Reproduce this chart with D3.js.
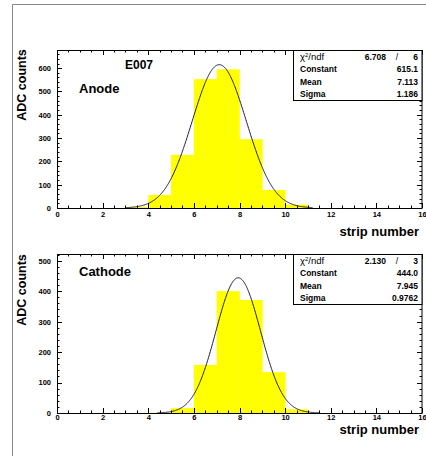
<!DOCTYPE html>
<html>
<head>
<meta charset="utf-8">
<script src="https://cdn.jsdelivr.net/npm/d3@7"></script>
<style>
  html, body { margin: 0; padding: 0; background: #fff; }
  svg { display: block; }
  text { font-family: "Liberation Sans", Arial, Helvetica, sans-serif; font-weight: bold; fill: #000; }
</style>
</head>
<body>
<svg id="chart" width="426" height="456"></svg>
<script>
// ---------------- data ----------------
const binStarts = [0, 1, 2, 3, 4, 5, 6, 7, 8, 9, 10, 11, 12, 13, 14, 15];
const binWidth = 1;
const anodeCounts   = [0, 0, 0, 4, 56, 228, 553, 595, 295, 77, 14, 0, 0, 0, 0, 0];
const cathodeCounts = [0, 0, 0, 0, 1, 16, 158, 400, 371, 134, 12, 0, 0, 0, 0, 0];
const xTickValues = [0, 2, 4, 6, 8, 10, 12, 14, 16];
const anodeYTicks   = [0, 100, 200, 300, 400, 500, 600];
const cathodeYTicks = [0, 100, 200, 300, 400, 500];
const anodeFit   = [615.1, 7.113, 1.186];   // constant, mean, sigma
const cathodeFit = [444.0, 7.945, 0.9762];
const anodeFitRange   = [3.0, 11.2];
const cathodeFitRange = [4.4, 11.5];
const anodeChi2   = ["6.708", "6"];
const cathodeChi2 = ["2.130", "3"];
const anodeStatValues   = ["615.1", "7.113", "1.186"];
const cathodeStatValues = ["444.0", "7.945", "0.9762"];
const statLabels = ["Constant", "Mean", "Sigma"];
const anodeYMax = 678;
const cathodeYMax = 522;

// ---------------- drawing ----------------
const svg = d3.select("#chart");
svg.append("rect").attr("x", 0).attr("y", 0).attr("width", 426).attr("height", 456).attr("fill", "#fff");
// outer pad border
svg.append("path").attr("d", "M12.5,460 L12.5,4.5 L430,4.5")
  .attr("fill", "none").attr("stroke", "#888").attr("stroke-width", 1);

function panel(cfg) {
  const g = svg.append("g");
  const x = d3.scaleLinear().domain([0, 16]).range([cfg.left, cfg.right]);
  const y = d3.scaleLinear().domain([0, cfg.ymax]).range([cfg.bottom, cfg.top]);

  // bars
  g.selectAll("rect.bar").data(binStarts.map((s, i) => ({ s, v: cfg.counts[i] })).filter(d => d.v > 0))
    .enter().append("rect").attr("class", "bar")
    .attr("x", d => x(d.s)).attr("width", d => x(d.s + binWidth) - x(d.s) + 0.3)
    .attr("y", d => y(d.v)).attr("height", d => y(0) - y(d.v))
    .attr("fill", "#ffff00").attr("stroke", "none");

  // fit curve
  const [c, m, s] = cfg.fit;
  const xs = d3.range(cfg.fitRange[0], cfg.fitRange[1] + 1e-9, 0.02);
  const line = d3.line().x(d => x(d)).y(d => y(c * Math.exp(-0.5 * ((d - m) / s) ** 2))).curve(d3.curveLinear);
  g.append("path").datum(xs).attr("d", line).attr("fill", "none").attr("stroke", "#1a1a40").attr("stroke-width", 1);

  // frame
  g.append("rect").attr("x", cfg.left + 0.5).attr("y", cfg.top + 0.5)
    .attr("width", cfg.right - cfg.left - 0.5).attr("height", cfg.bottom - cfg.top)
    .attr("fill", "none").attr("stroke", "#000").attr("stroke-width", 1);

  // x axis ticks (bottom & top, inward)
  const xMinor = d3.range(0, 16.001, 0.5);
  xMinor.forEach(v => {
    const major = Math.abs(v / 2 - Math.round(v / 2)) < 1e-6;
    const len = major ? 5 : 2.5;
    const px = Math.round(x(v)) + 0.5;
    g.append("line").attr("x1", px).attr("x2", px).attr("y1", cfg.bottom).attr("y2", cfg.bottom - len).attr("stroke", "#000");
    g.append("line").attr("x1", px).attr("x2", px).attr("y1", cfg.top).attr("y2", cfg.top + len).attr("stroke", "#000");
  });
  const xAxis = d3.axisBottom(x).tickValues(xTickValues).tickSize(0).tickPadding(cfg.xpad).tickFormat(d3.format("d"));
  const xa = g.append("g").attr("transform", `translate(0,${cfg.bottom})`).call(xAxis);
  xa.select(".domain").remove();
  xa.selectAll("text").style("font-size", "7.5px").style("font-family", "Liberation Sans, Arial, sans-serif").style("font-weight", "bold").attr("fill", "#000");

  // y axis ticks (left & right, inward)
  const yMinor = d3.range(0, cfg.ymax + 0.001, 20);
  yMinor.forEach(v => {
    const major = v % 100 === 0;
    const len = major ? 5 : 2.5;
    const py = Math.round(y(v)) + 0.5;
    g.append("line").attr("x1", cfg.left).attr("x2", cfg.left + len).attr("y1", py).attr("y2", py).attr("stroke", "#000");
    g.append("line").attr("x1", cfg.right).attr("x2", cfg.right - len).attr("y1", py).attr("y2", py).attr("stroke", "#000");
  });
  const yAxis = d3.axisLeft(y).tickValues(cfg.yticks).tickSize(0).tickPadding(6).tickFormat(d3.format("d"));
  const ya = g.append("g").attr("transform", `translate(${cfg.left},0)`).call(yAxis);
  ya.select(".domain").remove();
  ya.selectAll("text").style("font-size", "7.5px").style("font-family", "Liberation Sans, Arial, sans-serif").style("font-weight", "bold").attr("fill", "#000");

  // axis titles
  g.append("text").attr("transform", `translate(26,${cfg.ytitleY}) rotate(-90)`)
    .attr("text-anchor", "middle").style("font-size", "12.5px").text("ADC counts");
  g.append("text").attr("x", 419).attr("y", cfg.xtitleY).attr("text-anchor", "end")
    .style("font-size", "13px").text("strip number");

  // labels
  cfg.labels.forEach(l => {
    g.append("text").attr("x", l.x).attr("y", l.y).style("font-size", l.size + "px").text(l.t);
  });

  // stats box
  const bx = 293.5, by = cfg.top + 0.5, bw = cfg.right - 293.5, bh = 50;
  g.append("rect").attr("x", bx).attr("y", by).attr("width", bw).attr("height", bh)
    .attr("fill", "#fff").attr("stroke", "#000").attr("stroke-width", 1);
  const rowH = bh / 4;
  const chiRow = g.append("text").attr("x", 300).attr("y", by + rowH * 0.5 + 3.5)
    .style("font-size", "9.5px").style("font-weight", "normal");
  chiRow.append("tspan").text("χ");
  chiRow.append("tspan").attr("dy", -3.5).style("font-size", "6px").text("2");
  chiRow.append("tspan").attr("dy", 3.5).text("/ndf");
  g.append("text").attr("x", 386).attr("y", by + rowH * 0.5 + 3.5).attr("text-anchor", "end")
    .style("font-size", "8.5px").text(cfg.chi2[0]);
  g.append("text").attr("x", 397).attr("y", by + rowH * 0.5 + 3.5).attr("text-anchor", "middle")
    .style("font-size", "8.5px").style("font-weight", "normal").text("/");
  g.append("text").attr("x", 418).attr("y", by + rowH * 0.5 + 3.5).attr("text-anchor", "end")
    .style("font-size", "8.5px").text(cfg.chi2[1]);
  statLabels.forEach((lab, i) => {
    const yy = by + rowH * (i + 1.5) + 3.2;
    g.append("text").attr("x", 300).attr("y", yy).style("font-size", "8.5px").text(lab);
    g.append("text").attr("x", 418).attr("y", yy).attr("text-anchor", "end").style("font-size", "8.5px").text(cfg.stats[i]);
  });
}

panel({
  left: 57, right: 422, top: 50, bottom: 208, ymax: anodeYMax, xpad: 4,
  counts: anodeCounts, fit: anodeFit, fitRange: anodeFitRange, yticks: anodeYTicks,
  chi2: anodeChi2, stats: anodeStatValues, ytitleY: 85, xtitleY: 236,
  labels: [{ t: "E007", x: 125, y: 69, size: 12 }, { t: "Anode", x: 79, y: 93, size: 13 }]
});
panel({
  left: 57, right: 422, top: 254, bottom: 413, ymax: cathodeYMax, xpad: 2,
  counts: cathodeCounts, fit: cathodeFit, fitRange: cathodeFitRange, yticks: cathodeYTicks,
  chi2: cathodeChi2, stats: cathodeStatValues, ytitleY: 290, xtitleY: 434,
  labels: [{ t: "Cathode", x: 79, y: 276, size: 13 }]
});
</script>
</body>
</html>
